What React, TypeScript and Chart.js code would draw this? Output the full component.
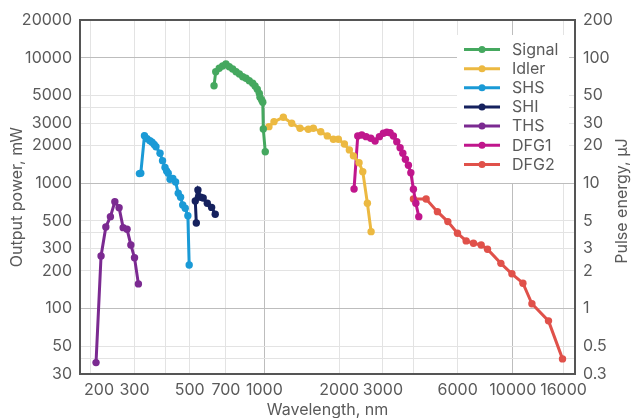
import { useEffect, useRef } from 'react';
import { Chart, registerables } from 'chart.js';

Chart.register(...registerables);

// ---- Data (wavelength nm, output power mW) ----
const signalWl = [627, 637, 658, 679, 700, 722, 745, 769, 793, 818, 843, 869, 897, 917, 936, 954, 960, 975, 985, 990, 1008];
const signalPw = [5980, 7740, 8240, 8590, 8910, 8480, 8130, 7740, 7420, 7060, 6860, 6560, 6250, 5950, 5610, 5200, 4840, 4600, 4410, 2700, 1780];

const idlerWl = [1043, 1093, 1192, 1288, 1391, 1503, 1574, 1686, 1792, 1895, 1985, 2099, 2198, 2282, 2405, 2489, 2598, 2689];
const idlerPw = [2820, 3090, 3350, 3000, 2740, 2690, 2740, 2570, 2380, 2240, 2240, 2050, 1840, 1650, 1455, 1234, 691, 410];

const shsWl = [314, 318, 329, 337, 346, 353, 360, 366, 380, 389, 398, 404, 410, 417, 428, 439, 450, 460, 469, 480, 492, 498];
const shsPw = [1190, 1200, 2390, 2260, 2180, 2120, 2030, 1950, 1730, 1510, 1330, 1250, 1200, 1073, 1090, 1021, 830, 771, 670, 630, 550, 222];

const shiWl = [532, 527, 540, 554, 567, 589, 613, 634];
const shiPw = [480, 720, 880, 770, 760, 690, 640, 565];

const thsWl = [210, 220, 230, 240, 250, 260, 270, 280, 290, 300, 311];
const thsPw = [37, 262, 447, 540, 711, 637, 441, 428, 321, 254, 157];

const dfg1Wl = [2296, 2376, 2466, 2567, 2681, 2790, 2904, 3013, 3110, 3206, 3306, 3412, 3518, 3608, 3695, 3800, 3886, 3981, 4071, 4184];
const dfg1Pw = [898, 2377, 2421, 2346, 2278, 2168, 2346, 2498, 2544, 2520, 2377, 2140, 1917, 1730, 1549, 1388, 1211, 893, 691, 540];

const dfg2Wl = [3981, 4478, 4972, 5476, 5987, 6490, 6944, 7459, 7910, 8954, 9917, 10985, 11940, 13923, 15855];
const dfg2Pw = [747, 747, 592, 493, 398, 346, 331, 321, 297, 229, 189, 159, 109, 79.6, 39.6];

const seriesNames = ['Signal', 'Idler', 'SHS', 'SHI', 'THS', 'DFG1', 'DFG2'];
const seriesColors = ['#45a85f', '#ecb941', '#1a9ad6', '#15215e', '#7b2a91', '#c0168c', '#e0514a'];

// ---- Ticks ----
// gridline positions, with labels ('' = gridline only); the "200" label sits slightly right of its line in the original
const xTickValues = [200, 216, 300, 400, 500, 700, 1000, 2000, 3000, 4000, 6000, 10000, 16000];
const xTickLabels = ['', '200', '300', '', '500', '700', '1000', '2000', '3000', '', '6000', '10000', '16000'];
const xLabelOnly = [216];
const xDecades = [1000, 10000];

const yTickValues = [30, 40, 50, 100, 200, 300, 400, 500, 1000, 2000, 3000, 4000, 5000, 10000, 20000];
const yTickLabels = ['30', '', '50', '100', '200', '300', '', '500', '1000', '2000', '3000', '', '5000', '10000', '20000'];
const yDecades = [100, 1000, 10000];

const y2TickValues = [0.3, 0.5, 1, 2, 3, 5, 10, 20, 30, 50, 100, 200];
const y2TickLabels = ['0.3', '0.5', '1', '2', '3', '5', '10', '20', '30', '50', '100', '200'];

const FONT = 'Inter, "Liberation Sans", Arial, sans-serif';
const TEXT = '#5a5a5a';

function pts(wl: number[], pw: number[]) {
  return wl.map((x, i) => ({ x, y: pw[i] }));
}

const decor = {
  id: 'decor',
  afterDraw(chart: any) {
    const { ctx, chartArea: a } = chart;
    ctx.save();
    // frame
    ctx.strokeStyle = '#555555';
    ctx.lineWidth = 2;
    ctx.strokeRect(a.left, a.top, a.right - a.left, a.bottom - a.top);

    // legend
    ctx.fillStyle = '#ffffff';
    ctx.fillRect(457, 35, 112, 148);
    const ds = chart.data.datasets;
    ctx.font = `16px ${FONT}`;
    ctx.textBaseline = 'middle';
    ctx.textAlign = 'left';
    ds.forEach((d: any, i: number) => {
      const y = 49.5 + i * 19.15;
      ctx.strokeStyle = d.borderColor;
      ctx.lineWidth = 3;
      ctx.beginPath();
      ctx.moveTo(464, y);
      ctx.lineTo(500, y);
      ctx.stroke();
      ctx.fillStyle = d.borderColor;
      ctx.beginPath();
      ctx.arc(482, y, 3.5, 0, Math.PI * 2);
      ctx.fill();
      ctx.fillStyle = TEXT;
      ctx.fillText(d.label, 512, y + 0.5);
    });

    // axis titles
    ctx.fillStyle = TEXT;
    ctx.font = `16px ${FONT}`;
    ctx.textAlign = 'center';
    ctx.textBaseline = 'middle';
    ctx.save();
    ctx.translate(17, (a.top + a.bottom) / 2);
    ctx.rotate(-Math.PI / 2);
    ctx.fillText('Output power, mW', 0, 0);
    ctx.restore();
    ctx.save();
    ctx.translate(622, (a.top + a.bottom) / 2 + 4);
    ctx.rotate(-Math.PI / 2);
    ctx.fillText('Pulse energy, μJ', 0, 0);
    ctx.restore();
    ctx.textBaseline = 'alphabetic';
    ctx.fillText('Wavelength, nm', (a.left + a.right) / 2, 415);
    ctx.restore();
  },
};

export default function App() {
  const ref = useRef<HTMLCanvasElement | null>(null);
  useEffect(() => {
    if (!ref.current) return;
    const all = [
      pts(signalWl, signalPw),
      pts(idlerWl, idlerPw),
      pts(shsWl, shsPw),
      pts(shiWl, shiPw),
      pts(thsWl, thsPw),
      pts(dfg1Wl, dfg1Pw),
      pts(dfg2Wl, dfg2Pw),
    ];
    const chart = new Chart(ref.current, {
      type: 'line',
      data: {
        datasets: all.map((data, i) => ({
          label: seriesNames[i],
          data,
          borderColor: seriesColors[i],
          backgroundColor: seriesColors[i],
          pointBackgroundColor: seriesColors[i],
          pointBorderWidth: 0,
          pointRadius: 3.7,
          borderWidth: 3,
          fill: false,
          tension: 0,
        })),
      },
      options: {
        animation: false,
        responsive: false,
        layout: { padding: { top: 20, left: 0, right: 0, bottom: 0 } },
        plugins: { legend: { display: false }, tooltip: { enabled: false } },
        scales: {
          x: {
            type: 'logarithmic',
            min: 181,
            max: 17800,
            afterFit: (s: any) => { s.height = 44; },
            afterBuildTicks: (s: any) => { s.ticks = xTickValues.map((v) => ({ value: v })); },
            ticks: {
              autoSkip: false,
              maxRotation: 0,
              padding: 7,
              color: TEXT,
              font: { family: FONT, size: 16 },
              callback: (v: any) => { const i = xTickValues.indexOf(Number(v)); return i >= 0 ? xTickLabels[i] : ''; },
            },
            grid: {
              drawTicks: false,
              color: (c: any) => {
                const v = c.tick?.value;
                if (xLabelOnly.includes(v)) return 'rgba(0,0,0,0)';
                return xDecades.includes(v) ? '#bdbdbd' : '#e3e3e3';
              },
              lineWidth: 1,
            },
            border: { display: false },
          },
          y: {
            type: 'logarithmic',
            position: 'left',
            min: 30,
            max: 20000,
            afterFit: (s: any) => { s.width = 80; },
            afterBuildTicks: (s: any) => { s.ticks = yTickValues.map((v) => ({ value: v })); },
            ticks: {
              autoSkip: false,
              padding: 8,
              color: TEXT,
              font: { family: FONT, size: 16 },
              callback: (v: any) => { const i = yTickValues.indexOf(Number(v)); return i >= 0 ? yTickLabels[i] : ''; },
            },
            grid: {
              drawTicks: false,
              color: (c: any) => (yDecades.includes(c.tick?.value) ? '#bdbdbd' : '#e3e3e3'),
              lineWidth: 1,
            },
            border: { display: false },
          },
          y1: {
            type: 'logarithmic',
            position: 'right',
            min: 0.3,
            max: 200,
            afterFit: (s: any) => { s.width = 57; },
            afterBuildTicks: (s: any) => { s.ticks = y2TickValues.map((v) => ({ value: v })); },
            ticks: {
              autoSkip: false,
              padding: 8,
              color: TEXT,
              font: { family: FONT, size: 16 },
              callback: (v: any) => { const i = y2TickValues.indexOf(Number(v)); return i >= 0 ? y2TickLabels[i] : ''; },
            },
            grid: { drawOnChartArea: false, drawTicks: false },
            border: { display: false },
          },
        },
      },
      plugins: [decor],
    });
    return () => chart.destroy();
  }, []);
  return (
    <div style={{ position: 'absolute', left: 0, top: 0, width: 632, height: 418, background: '#fff' }}>
      <canvas ref={ref} width={632} height={418} style={{ display: 'block' }} />
    </div>
  );
}
